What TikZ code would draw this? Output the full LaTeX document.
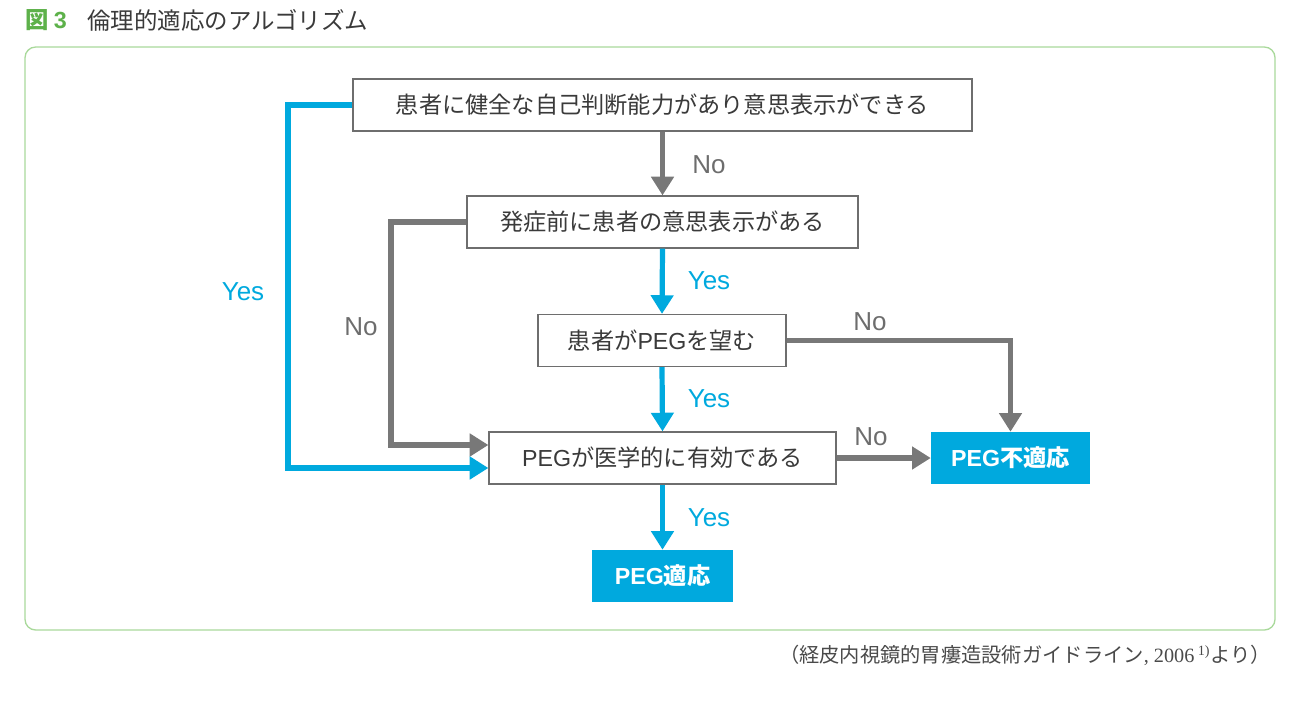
\documentclass[tikz,border=0pt]{standalone}
\usepackage{fontspec}
\setmainfont{Liberation Sans}
\newfontfamily\cjk{Noto Sans CJK JP}
\newfontfamily\lat{Liberation Sans}
\newfontfamily\ser{Liberation Serif}
\usetikzlibrary{arrows.meta,calc}
\definecolor{cyanc}{HTML}{00A9DE}
\definecolor{grayc}{HTML}{787878}
\definecolor{boxgray}{HTML}{6E6E6E}
\definecolor{txt}{HTML}{3A3A3A}
\definecolor{greent}{HTML}{5DB14A}
\definecolor{framec}{HTML}{A9D99B}
\definecolor{labgray}{HTML}{6D6D6D}
\definecolor{capc}{HTML}{4A4A4A}
\begin{document}
\begin{tikzpicture}[x=0.75pt,y=-0.75pt,
  box/.style={draw=boxgray, line width=0.9pt, fill=white, inner sep=0pt,
    minimum height=39pt, font=\cjk\fontsize{17.4}{20}\selectfont, text=txt},
  res/.style={fill=cyanc, inner sep=0pt, minimum height=39pt,
    font=\cjk\bfseries\fontsize{17.4}{20}\selectfont, text=white},
  garr/.style={draw=grayc, line width=3.9pt, -{Triangle[length=14pt,width=16.5pt]}},
  barr/.style={draw=cyanc, line width=3.9pt, -{Triangle[length=14pt,width=16.5pt]}},
  nolab/.style={font=\lat\fontsize{19.5}{22}\selectfont, text=labgray},
  yeslab/.style={font=\lat\fontsize{19.5}{22}\selectfont, text=cyanc}
]
\useasboundingbox (0,0) rectangle (1302,700);
% title
\node[anchor=west, inner sep=0pt, font=\cjk\bfseries\fontsize{17.5}{20}\selectfont, text=greent] (fig) at (25,20) {図 {\lat\bfseries 3}};
\node[anchor=west, inner sep=0pt, font=\cjk\fontsize{17.6}{20}\selectfont, text=txt] (title) at (87,20) {倫理的適応のアルゴリズム};
% frame
\draw[framec, line width=1pt, rounded corners=8pt] (25,47) rectangle (1275,630);
% boxes
\node[box, minimum width=464.25pt] (b1) at (662.5,105) {患者に健全な自己判断能力があり意思表示ができる};
\node[box, minimum width=293.25pt] (b2) at (662.5,222) {発症前に患者の意思表示がある};
\node[box, minimum width=186pt] (b3) at (662,340.5) {患者が{\lat PEG}を望む};
\node[box, minimum width=260.25pt] (b4) at (662.5,458) {{\lat PEG}が医学的に有効である};
\node[res, minimum width=119.25pt] (ng) at (1010.5,458) {{\lat\bfseries PEG}不適応};
\node[res, minimum width=105.75pt] (ok) at (662.5,576) {{\lat\bfseries PEG}適応};
% connectors
\draw[garr] (b1.south) -- (b2.north);
\draw[barr] (b2.south) -- (b3.north);
\draw[barr] (b3.south) -- (b4.north);
\draw[barr] (b4.south) -- (ok.north);
\draw[garr] (b4.east) -- (ng.west);
\draw[garr] (b3.east) -| (ng.north);
\coordinate (ycorner) at (288,468);
\coordinate (ncorner) at (391,445);
\draw[barr] (b1.west) -| (ycorner) -- ($(b4.west)+(0,10)$);
\draw[garr] (b2.west) -| (ncorner) -- ($(b4.west)+(0,-13)$);
% labels
\node[nolab] (l1) at (709,165) {No};
\node[yeslab] (l2) at (709,281) {Yes};
\node[yeslab] (l3) at (709,399) {Yes};
\node[yeslab] (l4) at (709,518) {Yes};
\node[nolab] (l5) at (870,322) {No};
\node[nolab] (l6) at (871,437) {No};
\node[yeslab] (l7) at (243,292) {Yes};
\node[nolab] (l8) at (361,327) {No};
% caption
\node[anchor=east, inner sep=0pt, font=\cjk\fontsize{15.2}{17}\selectfont, text=capc] (cap) at (1271,655) {（経皮内視鏡的胃瘻造設術ガイドライン{\ser , 2006\,\textsuperscript{1)}}より）};
\end{tikzpicture}
\end{document}
